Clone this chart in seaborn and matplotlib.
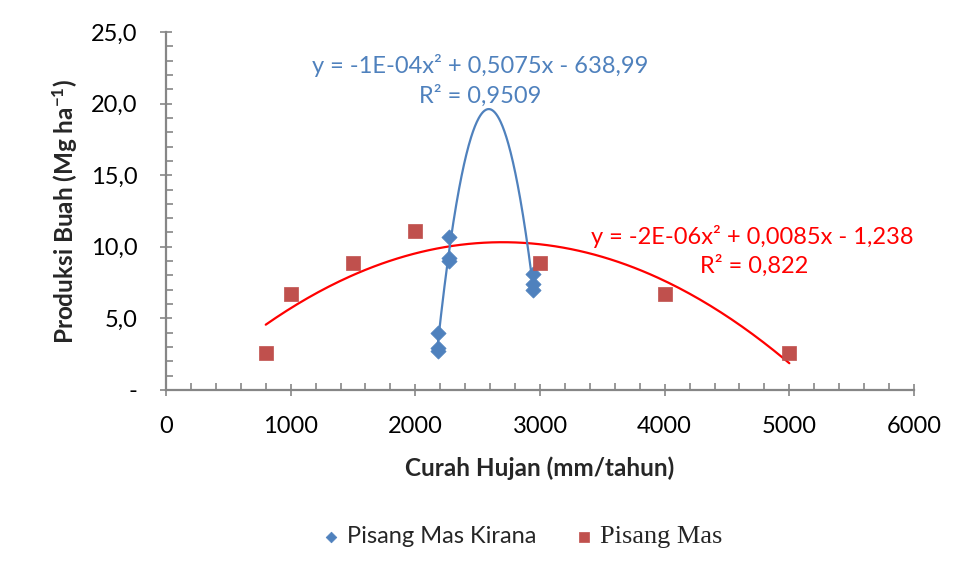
import numpy as np
import pandas as pd
import matplotlib
matplotlib.use("Agg")
import matplotlib.pyplot as plt
import seaborn as sns
from matplotlib.ticker import MultipleLocator, FuncFormatter
from matplotlib.font_manager import FontProperties

# ---- data ----
kirana_x = [2180, 2180, 2180, 2270, 2270, 2270, 2940, 2940, 2940]
kirana_y = [4.0, 2.9, 2.7, 10.7, 9.2, 9.0, 8.1, 7.4, 7.0]
mas_x = [800, 1000, 1500, 2000, 3000, 4000, 5000]
mas_y = [2.6, 6.7, 8.9, 11.1, 8.9, 6.7, 2.6]
kirana_label = "Pisang Mas Kirana"
mas_label = "Pisang Mas"
kirana_eq = "y = -1E-04x\u00b2 + 0,5075x - 638,99"
kirana_r2 = "R\u00b2 = 0,9509"
mas_eq = "y = -2E-06x\u00b2 + 0,0085x - 1,238"
mas_r2 = "R\u00b2 = 0,822"
x_label = "Curah Hujan (mm/tahun)"
y_label = "Produksi Buah (Mg ha$^{-1}$)"

BLUE = "#4F81BD"
RED_PT = "#C0504D"
RED_LN = "#FF0000"
AXC = "#868686"

sns.set_style("white")
plt.rcParams["font.family"] = ["Lato", "DejaVu Sans"]
plt.rcParams["mathtext.default"] = "regular"
plt.rcParams["axes.unicode_minus"] = False

fig = plt.figure(figsize=(9.55, 5.74), dpi=100)
ax = fig.add_axes([166/955, 1-390/574, (914-166)/955, (390-32)/574])

# trendlines (second-order polynomial fits)
ck = np.polyfit(kirana_x, kirana_y, 2)
xk = np.linspace(min(kirana_x), max(kirana_x), 200)
cm = np.polyfit(mas_x, mas_y, 2)
xm = np.linspace(min(mas_x), max(mas_x), 200)

sns.lineplot(x=xm, y=np.polyval(cm, xm), ax=ax, color=RED_LN, lw=1.6, legend=False)
sns.lineplot(x=xk, y=np.polyval(ck, xk), ax=ax, color=BLUE, lw=1.6, legend=False)

sns.scatterplot(x=kirana_x, y=kirana_y, ax=ax, marker="D", s=60, color=BLUE,
                edgecolor=BLUE, linewidth=0.5, label=kirana_label, zorder=3)
sns.scatterplot(x=mas_x, y=mas_y, ax=ax, marker="s", s=90, color=RED_PT,
                edgecolor=RED_PT, linewidth=0.5, label=mas_label, zorder=3)

ax.set_xlim(0, 6000)
ax.set_ylim(0, 25)
ax.xaxis.set_major_locator(MultipleLocator(1000))
ax.xaxis.set_minor_locator(MultipleLocator(200))
ax.yaxis.set_major_locator(MultipleLocator(5))
ax.yaxis.set_minor_locator(MultipleLocator(1))
ax.yaxis.set_major_formatter(FuncFormatter(lambda v, p: "-" if v == 0 else f"{v:.1f}".replace(".", ",")))

for s in ["top", "right"]:
    ax.spines[s].set_visible(False)
for s in ["left", "bottom"]:
    ax.spines[s].set_color(AXC)
    ax.spines[s].set_linewidth(1.6)

ax.tick_params(axis="both", which="both", bottom=True, left=True)
ax.tick_params(axis="both", which="major", direction="inout", length=9, width=1.2,
               color=AXC, labelsize=17, labelcolor="black")
ax.tick_params(axis="both", which="minor", direction="in", length=5, width=1.2, color=AXC)
ax.tick_params(axis="x", which="major", pad=14)
ax.tick_params(axis="y", which="major", pad=16)

ax.set_xlabel(x_label, fontsize=17.5, fontweight="bold", labelpad=14)
ax.set_ylabel(y_label, fontsize=17.5, fontweight="bold", labelpad=8)

ax.text(480/955, 1-66/574, kirana_eq, transform=fig.transFigure, color=BLUE,
        fontsize=17, ha="center", va="center")
ax.text(480/955, 1-96/574, kirana_r2, transform=fig.transFigure, color=BLUE,
        fontsize=17, ha="center", va="center")
ax.text(913/955, 1-236/574, mas_eq, transform=fig.transFigure, color=RED_LN,
        fontsize=17, ha="right", va="center")
ax.text(808/955, 1-266/574, mas_r2, transform=fig.transFigure, color=RED_LN,
        fontsize=17, ha="right", va="center")

leg = ax.legend(loc="center", bbox_to_anchor=(522/955, 1-537/574),
                bbox_transform=fig.transFigure, ncol=2, frameon=False,
                fontsize=17, handlelength=0.8, handletextpad=0.3,
                columnspacing=1.6, markerscale=0.7)
texts = leg.get_texts()
texts[1].set_fontproperties(FontProperties(family="Liberation Serif", size=19))

fig.savefig("out.png", dpi=100)
